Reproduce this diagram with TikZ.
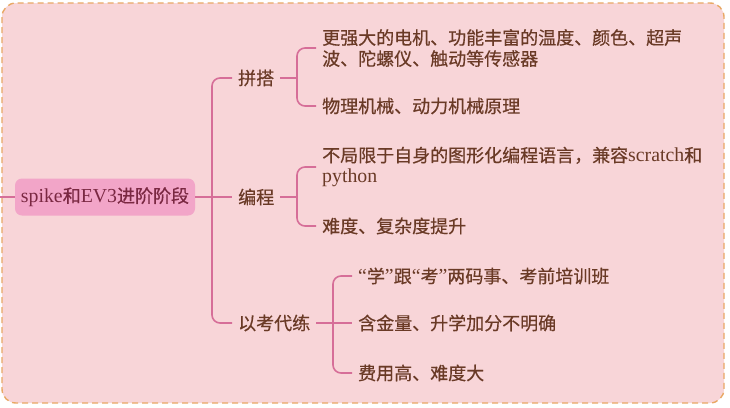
\documentclass[tikz,border=0pt]{standalone}
\usepackage{fontspec}
\newfontfamily\cjk{Noto Sans CJK SC}[FakeBold=0.5]
\newfontfamily\latf{Liberation Serif}[Scale=1.1]
\newcommand\txtfont{\fontsize{18}{21}\selectfont}
\newcommand\lat[1]{{\latf #1}}
\definecolor{bgc}{HTML}{F8D5D8}
\definecolor{framec}{HTML}{E9A865}
\definecolor{linec}{HTML}{D66E98}
\definecolor{rootc}{HTML}{F2A5C8}
\definecolor{roottext}{HTML}{7A2842}
\definecolor{txtc}{HTML}{6A3A26}

\begin{document}
\begin{tikzpicture}[x=1pt,y=-1pt,
  frame/.style={draw=framec,fill=bgc,line width=1.4pt,dash pattern=on 6pt off 4pt,rounded corners=14pt},
  branch/.style={draw=linec,line width=1.6pt,rounded corners=8pt},
  rootbox/.style={fill=rootc,rounded corners=7pt,minimum width=180pt,minimum height=37pt,inner sep=0pt,text=roottext,font=\txtfont\cjk},
  topic/.style={anchor=west,inner xsep=6pt,inner ysep=2pt,text=txtc,font=\txtfont\cjk},
  item/.style={anchor=west,inner xsep=6pt,inner ysep=2pt,align=left,text=txtc,font=\txtfont\cjk}]
\useasboundingbox (0,0) rectangle (730,407);
\fill[white] (0,0) rectangle (730,407);
\draw[frame] (2,3) rectangle (724,403);

\node[rootbox] (root) at (105,197) {\lat{spike}和\lat{EV3}进阶阶段};
\node[topic] (pinda) at (232,78) {拼搭};
\node[topic] (biancheng) at (232,197) {编程};
\node[topic] (yikao) at (232,323) {以考代练};

\node[item] (p1) at (316,48) {更强大的电机、功能丰富的温度、颜色、超声\\波、陀螺仪、触动等传感器};
\node[item] (p2) at (316,106) {物理机械、动力机械原理};
\node[item] (b1) at (316,167) {不局限于自身的图形化编程语言，兼容\lat{scratch}和\\\lat{python}};
\node[item] (b2) at (316,226) {难度、复杂度提升};
\node[item] (y1) at (352,276) {\lat{“}学\lat{”}跟\lat{“}考\lat{”}两码事、考前培训班};
\node[item] (y2) at (352,323) {含金量、升学加分不明确};
\node[item] (y3) at (352,373) {费用高、难度大};

\coordinate (edge) at (0,197);
\coordinate (bus) at (212,197);
\coordinate (pbus) at (297,78);
\coordinate (bbus) at (297,197);
\coordinate (ybus) at (333,323);

\draw[branch] (edge) -- (root.west);
\draw[branch] (root.east) -- (biancheng.west);
\draw[branch] (pinda.west) -| (bus) |- (yikao.west);
\draw[branch] (pinda.east) -- (pbus);
\draw[branch] (p1.west) -| (pbus) |- (p2.west);
\draw[branch] (biancheng.east) -- (bbus);
\draw[branch] (b1.west) -| (bbus) |- (b2.west);
\draw[branch] (yikao.east) -- (ybus);
\draw[branch] (y1.west) -| (ybus) |- (y3.west);
\draw[branch] (ybus) -- (y2.west);
\end{tikzpicture}
\end{document}
